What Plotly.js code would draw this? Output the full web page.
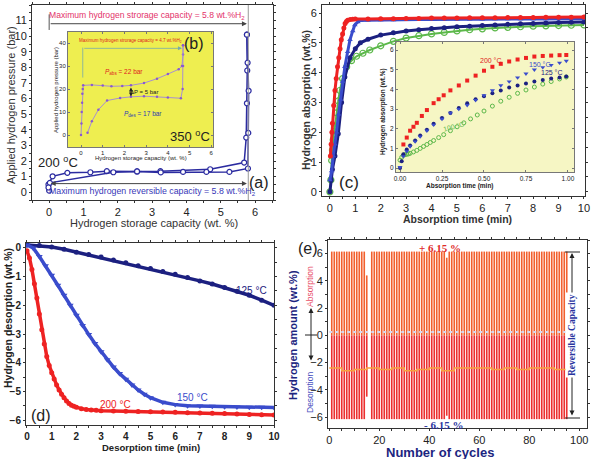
<!DOCTYPE html>
<html><head><meta charset="utf-8">
<script src="https://cdn.plot.ly/plotly-3.0.1.min.js"></script>
<style>html,body{margin:0;padding:0;background:#fff}#g{width:592px;height:459px}</style>
</head><body><div id="g"></div>
<script>
// ---------- (a) PCI at 200 C ----------
const aAbsX = [0.0, -0.02, 0.1, 0.53, 1.2, 1.68, 2.56, 3.24, 4.69, 5.68, 5.74, 5.76, 5.77, 5.76];
const aAbsY = [0.1, 0.5, 1.02, 1.24, 1.28, 1.35, 1.33, 1.35, 1.47, 1.9, 3.5, 5.7, 7.8, 10.1];
const aDesX = [5.76, 5.78, 5.81, 5.8, 5.79, 5.25, 4.58, 3.9, 3.25, 2.56, 1.87, 0.02, -0.02];
const aDesY = [10.1, 8.3, 6.5, 3.8, 1.52, 1.3, 1.3, 1.3, 1.27, 1.33, 1.28, 0.6, 0.3];
// ---------- (b) PCI at 350 C ----------
const bAbsX = [0.0, 0.02, 0.03, 0.05, 0.06, 0.08, 0.1, 0.5, 1.0, 1.4, 1.9, 2.3, 2.9, 3.5, 4.0, 4.5, 4.65, 4.7, 4.7];
const bAbsY = [0.0, 5, 10, 14, 18, 20, 21.6, 21.8, 21.5, 21.2, 21.3, 21.6, 22.6, 24.5, 26.5, 28.6, 30, 35, 39];
const bDesX = [4.7, 4.7, 4.68, 4.6, 4.0, 3.5, 2.9, 2.3, 1.8, 1.2, 0.8, 0.5, 0.3];
const bDesY = [39, 30, 20, 16.0, 16.3, 16.6, 16.9, 16.6, 16.1, 15.0, 11.0, 6.0, 1.0];
// ---------- (c) absorption kinetics ----------
const cT200 = [0.02, 0.05, 0.08, 0.1, 0.15, 0.2, 0.25, 0.3, 0.35, 0.4, 0.45, 0.5, 0.55, 0.6, 0.65, 0.7, 0.8, 0.9, 1.0, 1.5, 2, 2.5, 3, 3.5, 4, 4.5, 5, 5.5, 6, 6.5, 7, 7.5, 8, 8.5, 9, 9.5, 10];
const cY200 = [1.2, 1.6, 2.0, 2.3, 2.9, 3.4, 3.8, 4.2, 4.5, 4.8, 5.1, 5.3, 5.5, 5.65, 5.72, 5.76, 5.78, 5.79, 5.8, 5.8, 5.81, 5.81, 5.82, 5.82, 5.83, 5.83, 5.83, 5.84, 5.84, 5.84, 5.85, 5.85, 5.85, 5.86, 5.86, 5.86, 5.87];
const cT150 = [0.0, 0.07, 0.13, 0.2, 0.26, 0.34, 0.42, 0.5, 0.59, 0.7, 0.79, 0.9, 0.98, 1.1, 1.2, 1.5, 2, 2.5, 3, 3.5, 4, 4.5, 5, 5.5, 6, 6.5, 7, 7.5, 8, 8.5, 9, 9.5, 10];
const cY150 = [0.4, 0.7, 1.2, 1.6, 2.0, 2.6, 3.1, 3.7, 4.2, 4.7, 5.1, 5.4, 5.6, 5.7, 5.75, 5.76, 5.77, 5.77, 5.78, 5.78, 5.78, 5.79, 5.79, 5.79, 5.79, 5.8, 5.8, 5.8, 5.8, 5.8, 5.81, 5.81, 5.81];
const cT125 = [0.0, 0.05, 0.1, 0.2, 0.33, 0.46, 0.59, 0.79, 1.0, 1.2, 1.5, 2, 2.5, 3, 3.5, 4, 4.5, 5, 5.5, 6, 6.5, 7, 7.5, 8, 8.5, 9, 9.5, 10];
const cY125 = [0.0, 0.4, 0.75, 1.2, 1.95, 3.0, 3.85, 4.5, 4.8, 5.0, 5.12, 5.26, 5.34, 5.4, 5.44, 5.48, 5.51, 5.54, 5.56, 5.58, 5.6, 5.62, 5.64, 5.65, 5.67, 5.68, 5.69, 5.7];
const cT100 = [0.0, 0.04, 0.07, 0.1, 0.13, 0.2, 0.26, 0.33, 0.39, 0.5, 0.66, 0.85, 1.05, 1.3, 1.57, 2, 2.5, 3, 3.5, 4, 4.5, 5, 5.5, 6, 6.5, 7, 7.5, 8, 8.5, 9, 9.5, 10];
const cY100 = [0.0, 0.4, 1.05, 1.4, 1.75, 2.2, 2.65, 3.05, 3.4, 3.8, 4.2, 4.4, 4.55, 4.65, 4.76, 4.9, 5.05, 5.16, 5.24, 5.3, 5.35, 5.4, 5.44, 5.47, 5.5, 5.52, 5.54, 5.56, 5.57, 5.58, 5.59, 5.6];
// ---------- (c) inset, first minute ----------
const iT200 = [0.02, 0.04, 0.06, 0.08, 0.1, 0.13, 0.16, 0.2, 0.23, 0.26, 0.3, 0.35, 0.4, 0.45, 0.5, 0.55, 0.6, 0.65, 0.7, 0.75, 0.8, 0.85, 0.9, 0.95, 0.99];
const iY200 = [1.2, 1.55, 1.9, 2.1, 2.3, 2.65, 2.95, 3.3, 3.5, 3.7, 3.95, 4.2, 4.45, 4.7, 4.95, 5.15, 5.3, 5.42, 5.52, 5.6, 5.67, 5.7, 5.72, 5.74, 5.75];
const iT150 = [0.0, 0.02, 0.04, 0.06, 0.09, 0.12, 0.16, 0.2, 0.25, 0.3, 0.35, 0.4, 0.45, 0.5, 0.55, 0.6, 0.65, 0.7, 0.75, 0.8, 0.85, 0.9, 0.95, 0.99];
const iY150 = [0.05, 0.6, 0.85, 1.1, 1.35, 1.6, 1.9, 2.2, 2.5, 2.8, 3.0, 3.2, 3.45, 3.7, 3.95, 4.2, 4.4, 4.6, 4.8, 5.0, 5.12, 5.24, 5.35, 5.45];
const iT125 = [0.0, 0.01, 0.02, 0.04, 0.06, 0.09, 0.12, 0.16, 0.2, 0.25, 0.3, 0.35, 0.4, 0.45, 0.5, 0.55, 0.6, 0.65, 0.7, 0.75, 0.8, 0.85, 0.9, 0.95, 0.99];
const iY125 = [0.0, 0.35, 0.7, 0.95, 1.15, 1.4, 1.65, 1.95, 2.25, 2.55, 2.8, 3.05, 3.3, 3.5, 3.65, 3.8, 3.95, 4.1, 4.2, 4.3, 4.4, 4.48, 4.55, 4.6, 4.65];
const iT100 = [0.0, 0.01, 0.02, 0.03, 0.04, 0.05, 0.06, 0.08, 0.1, 0.12, 0.14, 0.16, 0.18, 0.2, 0.23, 0.26, 0.3, 0.34, 0.38, 0.42, 0.46, 0.5, 0.55, 0.6, 0.65, 0.7, 0.75, 0.8, 0.85, 0.9, 0.95, 0.99];
const iY100 = [0.4, 0.55, 0.65, 0.68, 0.7, 0.72, 0.75, 0.82, 0.9, 1.0, 1.1, 1.2, 1.3, 1.4, 1.55, 1.7, 1.9, 2.1, 2.3, 2.5, 2.7, 2.9, 3.15, 3.4, 3.6, 3.8, 3.97, 4.12, 4.27, 4.4, 4.53, 4.63];
// ---------- (d) desorption kinetics ----------
const dT125 = [0, 0.5, 1, 1.5, 2, 2.5, 3, 3.5, 4, 4.5, 5, 5.5, 6, 6.5, 7, 7.5, 8, 8.5, 9, 9.5, 10];
const dY125 = [0.1, 0.08, 0.03, -0.05, -0.15, -0.23, -0.32, -0.42, -0.52, -0.62, -0.72, -0.82, -0.92, -1.03, -1.15, -1.26, -1.38, -1.51, -1.65, -1.82, -2.0];
const dT150 = [0, 0.25, 0.5, 0.75, 1, 1.25, 1.5, 1.75, 2, 2.25, 2.5, 2.75, 3, 3.25, 3.5, 3.75, 4, 4.25, 4.5, 4.75, 5, 5.5, 6, 6.5, 7, 7.5, 8, 8.5, 9, 9.5, 10];
const dY150 = [0.1, 0.0, -0.3, -0.62, -0.95, -1.3, -1.65, -2.0, -2.35, -2.7, -3.02, -3.33, -3.62, -3.9, -4.15, -4.38, -4.58, -4.78, -4.95, -5.1, -5.22, -5.38, -5.46, -5.5, -5.51, -5.52, -5.53, -5.54, -5.55, -5.55, -5.56];
const dT200 = [0, 0.1, 0.2, 0.3, 0.4, 0.5, 0.6, 0.7, 0.8, 0.9, 1.0, 1.1, 1.2, 1.3, 1.4, 1.5, 1.6, 1.7, 1.8, 1.9, 2.0, 2.2, 2.4, 2.6, 2.8, 3, 3.5, 4, 4.5, 5, 5.5, 6, 6.5, 7, 7.5, 8, 8.5, 9, 9.5, 10];
const dY200 = [-0.1, -0.35, -0.75, -1.25, -1.75, -2.3, -2.85, -3.35, -3.78, -4.1, -4.35, -4.57, -4.78, -4.95, -5.1, -5.22, -5.33, -5.42, -5.48, -5.52, -5.55, -5.6, -5.63, -5.65, -5.66, -5.67, -5.68, -5.69, -5.7, -5.71, -5.72, -5.73, -5.74, -5.75, -5.76, -5.77, -5.79, -5.8, -5.81, -5.82];
// ---------- (e) cycling ----------
const eCycle = [1,2,3,4,5,6,7,8,9,10,11,12,13,14,15,16,17,18,19,20,21,22,23,24,25,26,27,28,29,30,31,32,33,34,35,36,37,38,39,40,41,42,43,44,45,46,47,48,49,50,51,52,53,54,55,56,57,58,59,60,61,62,63,64,65,66,67,68,69,70,71,72,73,74,75,76,77,78,79,80,81,82,83,84,85,86,87,88,89,90,91,92,93,94,95];
const eAbs = [6.15,6.15,6.15,6.15,6.15,6.15,6.15,6.15,6.15,6.15,6.15,6.15,6.15,6.15,4.4,0,6.15,6.15,6.15,6.15,6.15,6.15,6.15,6.15,6.15,6.15,6.15,6.15,6.15,6.15,6.15,6.15,6.15,6.15,6.15,6.15,6.15,6.15,6.15,6.15,6.15,6.15,6.15,6.15,6.15,6.15,5.7,6.15,6.15,6.15,6.15,6.15,6.15,6.15,6.15,6.15,6.15,6.15,6.15,6.15,6.15,6.15,6.15,6.15,6.15,6.15,6.15,6.15,6.15,6.15,6.15,6.15,6.15,6.15,6.15,6.15,6.15,6.15,6.15,6.15,6.15,6.15,6.15,6.15,6.15,6.15,6.15,6.15,6.15,6.15,6.15,6.15,6.15,6.15,6.15];
const eDes = [-6.15,-6.15,-6.15,-6.15,-6.15,-6.15,-6.15,-6.15,-6.15,-6.15,-6.15,-6.15,-6.15,-6.15,-4.5,0,-6.15,-6.15,-6.15,-6.15,-6.15,-6.15,-6.15,-6.15,-6.15,-6.15,-6.15,-6.15,-6.15,-6.15,-6.15,-6.15,-6.15,-6.15,-6.15,-6.15,-6.15,-6.15,-6.15,-6.15,-6.15,-6.15,-6.15,-6.15,-6.15,-6.15,-5.9,-6.15,-6.15,-6.15,-6.15,-6.15,-6.15,-6.15,-6.15,-6.15,-6.15,-6.15,-6.15,-6.15,-6.15,-6.15,-6.15,-6.15,-6.15,-6.15,-6.15,-6.15,-6.15,-6.15,-6.15,-6.15,-6.15,-6.15,-6.15,-6.15,-6.15,-6.15,-6.15,-6.15,-6.15,-6.15,-6.15,-6.15,-6.15,-6.15,-6.15,-6.15,-6.15,-6.15,-6.15,-6.15,-6.15,-6.15,-6.15];
const eBaseX = [0, 95];
const eBaseY = [0.25, 0.25];
const eMidX = [0, 5, 10, 15, 20, 25, 30, 35, 40, 45, 50, 55, 60, 65, 70, 75, 80, 85, 90, 95];
const eMidY = [-2.4, -2.6, -2.5, -2.4, -2.5, -2.4, -2.6, -2.5, -2.4, -2.6, -2.4, -2.4, -2.4, -2.5, -2.4, -2.5, -2.4, -2.4, -2.5, -2.6];

const W = 592, H = 459;
const PX = x => x / W, PY = y => 1 - y / H;
const RED = '#ee2222', BLUE = '#3a4ccc', NAVY = '#1c2080', GREEN = '#5cb84a';
const SANS = 'Liberation Sans, Arial, sans-serif', SERIF = 'Liberation Serif, Times New Roman, serif';

function axis(dom, range, anchor, o) {
  return Object.assign({
    domain: dom, range: range, anchor: anchor, showline: true, linecolor: '#333', linewidth: 1,
    mirror: 'ticks', ticks: 'outside', ticklen: 2, tickcolor: '#333', showgrid: false, zeroline: false,
    tickfont: {family: SANS, size: 11, color: '#222'}, fixedrange: true
  }, o || {});
}
const dA = {x: [PX(32), PX(273)], y: [PY(200), PY(5)]};
const dB = {x: [PX(68), PX(213)], y: [PY(147), PY(32)]};
const dC = {x: [PX(322), PX(585)], y: [PY(196), PY(5)]};
const dCI = {x: [PX(396), PX(574)], y: [PY(172), PY(42)]};
const dD = {x: [PX(26), PX(274)], y: [PY(425), PY(243)]};
const dE = {x: [PX(328), PX(587)], y: [PY(428), PY(240)]};

const tiny = {family: SANS, size: 6, color: '#222'};
const mn = {dtick: 0.5, ticks: 'outside', ticklen: 2};
const layout = {
  width: W, height: H, margin: {l: 0, r: 0, t: 0, b: 0}, showlegend: false,
  paper_bgcolor: '#fff', plot_bgcolor: 'rgba(0,0,0,0)',
  xaxis: axis(dA.x, [-0.5, 6.52], 'y', {dtick: 1, minor: mn}),
  yaxis: axis(dA.y, [-0.5, 12], 'x', {dtick: 1, minor: mn}),
  xaxis2: axis(dB.x, [-0.6, 6.08], 'y2', {dtick: 1, ticks: 'inside', ticklen: 2, tickfont: tiny, linecolor: '#777', tickcolor: '#777'}),
  yaxis2: axis(dB.y, [-5.2, 44.8], 'x2', {dtick: 10, ticks: 'inside', ticklen: 2, tickfont: tiny, linecolor: '#777', tickcolor: '#777'}),
  xaxis3: axis(dC.x, [-0.31, 10.04], 'y3', {dtick: 1, minor: mn}),
  yaxis3: axis(dC.y, [-0.14, 6.27], 'x3', {dtick: 1, minor: mn}),
  xaxis4: axis(dCI.x, [-0.024, 1.036], 'y4', {dtick: 0.25, tickformat: '.2f', ticks: 'inside', ticklen: 2, tickfont: {family: SANS, size: 6.5, color: '#222'}, linecolor: '#777', tickcolor: '#777'}),
  yaxis4: axis(dCI.y, [-0.2, 6.41], 'x4', {dtick: 1, ticks: 'inside', ticklen: 2, tickfont: {family: SANS, size: 6.5, color: '#222'}, linecolor: '#777', tickcolor: '#777'}),
  xaxis5: axis(dD.x, [-0.04, 10.0], 'y5', {dtick: 1, minor: mn, tickfont: {family: SANS, size: 10, color: '#222', weight: 'bold'}}),
  yaxis5: axis(dD.y, [-6.17, 0.17], 'x5', {dtick: 1, minor: mn, tickfont: {family: SANS, size: 10, color: '#222', weight: 'bold'}}),
  xaxis6: axis(dE.x, [-0.5, 103.1], 'y6', {dtick: 20, minor: {dtick: 5, ticks: 'outside', ticklen: 2}}),
  yaxis6: axis(dE.y, [-6.8, 7.0], 'x6', {dtick: 2, minor: {dtick: 1, ticks: 'outside', ticklen: 2}}),
  bargap: 0.35,
  shapes: [
    {type: 'rect', xref: 'paper', yref: 'paper', x0: dB.x[0], x1: dB.x[1], y0: dB.y[0], y1: dB.y[1], fillcolor: '#eeee50', line: {width: 0}, layer: 'below'},
    {type: 'rect', xref: 'paper', yref: 'paper', x0: dCI.x[0], x1: dCI.x[1], y0: dCI.y[0], y1: dCI.y[1], fillcolor: '#f6f6c4', line: {width: 0}, layer: 'below'},
    {type: 'line', xref: 'x', yref: 'y', x0: 5.8, x1: 5.8, y0: -0.5, y1: 12, line: {color: '#999', width: 1}},
    {type: 'line', xref: 'x', yref: 'y', x0: 0, x1: 0, y0: 10.4, y1: 11.4, line: {color: '#555', width: 1}},
    {type: 'line', xref: 'x2', yref: 'y2', x0: 0.08, x1: 0.08, y0: 25, y1: 38, line: {color: '#7aa', width: 0.8}},
    {type: 'line', xref: 'paper', yref: 'paper', x0: PX(305), x1: PX(317), y0: PY(335), y1: PY(335), line: {color: '#222', width: 1}},
    {type: 'line', xref: 'paper', yref: 'paper', x0: PX(565), x1: PX(580), y0: PY(252), y1: PY(252), line: {color: '#222', width: 1}},
    {type: 'line', xref: 'paper', yref: 'paper', x0: PX(565), x1: PX(580), y0: PY(418), y1: PY(418), line: {color: '#222', width: 1}}
  ],
  annotations: []
};
const A = layout.annotations;
function txt(x, y, text, font, o) { A.push(Object.assign({x: x, y: y, xref: 'paper', yref: 'paper', text: text, showarrow: false, font: font, xanchor: 'center', yanchor: 'middle'}, o || {})); }
function dtxt(xr, yr, x, y, text, font, o) { A.push(Object.assign({x: x, y: y, xref: xr, yref: yr, text: text, showarrow: false, font: font, xanchor: 'center', yanchor: 'middle'}, o || {})); }
function arr(xr, yr, x, y, ax, ay, color, both, w) { A.push({x: x, y: y, ax: ax, ay: ay, xref: xr, yref: yr, axref: xr, ayref: yr, text: '', showarrow: true, arrowhead: 2, arrowsize: 1, arrowwidth: w || 1, arrowcolor: color, arrowside: both ? 'end+start' : 'end'}); }

// axis titles
txt(PX(154), PY(223), 'Hydrogen storage capacity (wt. %)', {family: SANS, size: 11, color: '#333'});
txt(PX(11), PY(105), 'Applied hydrogen pressure (bar)', {family: SANS, size: 11, color: '#333'}, {textangle: -90});
txt(PX(141), PY(158), 'Hydrogen storage capacity (wt. %)', tiny);
txt(PX(56), PY(90), 'Applied hydrogen pressure (bar)', tiny, {textangle: -90});
txt(PX(457), PY(219), '<b>Absorption time (min)</b>', {family: SANS, size: 10.5, color: '#333'});
txt(PX(306), PY(100), '<b>Hydrogen absorption (wt.%)</b>', {family: SANS, size: 10.5, color: '#333'}, {textangle: -90});
txt(PX(460), PY(186), '<b>Absorption time (min)</b>', {family: SANS, size: 6.5, color: '#222'});
txt(PX(383), PY(112), '<b>Hydrogen absorption (wt.%)</b>', {family: SANS, size: 6.5, color: '#222'}, {textangle: -90});
txt(PX(151), PY(447), '<b>Desorption time (min)</b>', {family: SANS, size: 9.5, color: '#222'});
txt(PX(8), PY(318), '<b>Hydrogen desorption (wt.%)</b>', {family: SANS, size: 10.5, color: '#222'}, {textangle: -90});
txt(PX(440), PY(452), '<b>Number of cycles</b>', {family: SANS, size: 13, color: '#1c2580'});
txt(PX(293), PY(335), '<b>Hydrogen amount (wt.%)</b>', {family: SANS, size: 11, color: '#1c2580'}, {textangle: -90});

// (a) annotations
dtxt('x', 'y', 2.86, 11.35, 'Maximum hydrogen strorage capacity = 5.8 wt.%H<sub>2</sub>', {family: SANS, size: 8.6, color: '#e3336a'});
arr('x', 'y', 5.76, 10.8, 0, 10.8, '#444', false, 1);
dtxt('x', 'y', 0.25, 1.95, '200 <sup>o</sup>C', {family: SANS, size: 13, color: '#222'});
arr('x', 'y', 5.76, 0.55, 0.0, 0.55, '#444', true, 1);
dtxt('x', 'y', 3.0, 0.02, 'Maximum hydrogen reversible capacity = 5.8 wt.%H<sub>2</sub>', {family: SANS, size: 8.8, color: '#3838b8'});
dtxt('x', 'y', 6.1, 0.6, '(a)', {family: SANS, size: 16, color: '#222'});
// (b) annotations
dtxt('x2', 'y2', 2.3, 40.8, 'Maximum hydrogen strorage capacity = 4.7 wt.%H<sub>2</sub>', {family: SANS, size: 4.5, color: '#e02020'});
arr('x2', 'y2', 4.65, 37.7, 0.08, 37.7, '#7aa', false, 0.8);
dtxt('x2', 'y2', 5.2, 40, '(b)', {family: SANS, size: 16, color: '#222'});
dtxt('x2', 'y2', 2.0, 27.3, '<i>P</i><sub>abs</sub> = 22 bar', {family: SANS, size: 6.5, color: '#e02020'});
dtxt('x2', 'y2', 2.9, 18.8, 'ΔP = 5 bar', {family: SANS, size: 6, color: '#222'});
dtxt('x2', 'y2', 2.85, 9.0, '<i>P</i><sub>des</sub> = 17 bar', {family: SANS, size: 6.5, color: '#2a3ab0'});
dtxt('x2', 'y2', 5.0, -0.5, '350 <sup>o</sup>C', {family: SANS, size: 13, color: '#222'});
arr('x2', 'y2', 2.3, 16.8, 2.3, 21.3, '#222', true, 0.8);
// (c) annotations
dtxt('x3', 'y3', 0.75, 0.33, '(c)', {family: SANS, size: 17, color: '#222'});
dtxt('x4', 'y4', 0.54, 5.45, '200 °C', {family: SANS, size: 7, color: '#e02020'});
dtxt('x4', 'y4', 0.83, 5.25, '150 °C', {family: SANS, size: 7, color: '#3a4ccc'});
dtxt('x4', 'y4', 0.9, 4.87, '125 °C', {family: SANS, size: 7, color: '#1c2080'});
dtxt('x4', 'y4', 0.32, 2.1, '100 °C', {family: SANS, size: 7, color: '#5cb84a'}, {textangle: -15});
// (d) annotations
dtxt('x5', 'y5', 9.1, -1.5, '125 °C', {family: SANS, size: 10, color: '#1c2080'});
dtxt('x5', 'y5', 6.7, -5.22, '150 °C', {family: SANS, size: 10, color: '#3a4ccc'});
dtxt('x5', 'y5', 3.6, -5.47, '200 °C', {family: SANS, size: 10, color: '#ee2222'});
dtxt('x5', 'y5', 0.55, -5.85, '(d)', {family: SANS, size: 16, color: '#222'});
// (e) annotations
txt(PX(308), PY(249), '(e)', {family: SANS, size: 16, color: '#222'});
txt(PX(440), PY(248), '<b>+ 6.15 %</b>', {family: SERIF, size: 11, color: '#e02a2a'});
txt(PX(443), PY(425), '<b>- 6.15 %</b>', {family: SERIF, size: 11, color: '#2a35a0'});
txt(PX(310), PY(287), 'Absorption', {family: SANS, size: 8.5, color: '#e8506a'}, {textangle: -90});
txt(PX(310), PY(393), 'Desorption', {family: SANS, size: 8.5, color: '#4a50c0'}, {textangle: -90});
A.push({x: PX(311), y: PY(308), ax: PX(311), ay: PY(362), xref: 'paper', yref: 'paper', axref: 'paper', ayref: 'paper', text: '', showarrow: true, arrowhead: 2, arrowwidth: 1, arrowcolor: '#222', arrowside: 'end+start'});
A.push({x: PX(572), y: PY(253), ax: PX(572), ay: PY(417), xref: 'paper', yref: 'paper', axref: 'paper', ayref: 'paper', text: '', showarrow: true, arrowhead: 2, arrowwidth: 1, arrowcolor: '#222', arrowside: 'end+start'});
txt(PX(572), PY(335), '<b>Reversible Capacity</b>', {family: SERIF, size: 9.5, color: '#2a35a0'}, {textangle: -90, bgcolor: '#fff'});

const traces = [
  {x: aAbsX, y: aAbsY, xaxis: 'x', yaxis: 'y', mode: 'lines+markers', line: {color: '#2b2ba0', width: 1.5}, marker: {symbol: 'circle', size: 5, color: '#fff', line: {color: '#2b2ba0', width: 1.2}}},
  {x: aDesX, y: aDesY, xaxis: 'x', yaxis: 'y', mode: 'lines+markers', line: {color: '#2b2ba0', width: 1.5}, marker: {symbol: 'circle', size: 5, color: '#fff', line: {color: '#2b2ba0', width: 1.2}}},
  {x: bAbsX, y: bAbsY, xaxis: 'x2', yaxis: 'y2', mode: 'lines+markers', line: {color: '#a890d0', width: 1}, marker: {size: 2.5, color: '#8a5ad0'}},
  {x: bDesX, y: bDesY, xaxis: 'x2', yaxis: 'y2', mode: 'lines+markers', line: {color: '#a890d0', width: 1}, marker: {size: 2.5, color: '#8a5ad0'}},
  {x: cT100, y: cY100, xaxis: 'x3', yaxis: 'y3', mode: 'lines+markers', line: {color: GREEN, width: 2}, marker: {symbol: 'circle-open', size: 6, color: GREEN, line: {width: 1.2}}},
  {x: cT125, y: cY125, xaxis: 'x3', yaxis: 'y3', mode: 'lines+markers', line: {color: NAVY, width: 3}, marker: {symbol: 'circle', size: 5, color: NAVY}},
  {x: cT150, y: cY150, xaxis: 'x3', yaxis: 'y3', mode: 'lines+markers', line: {color: BLUE, width: 3}, marker: {symbol: 'triangle-up', size: 5, color: BLUE}},
  {x: cT200, y: cY200, xaxis: 'x3', yaxis: 'y3', mode: 'lines+markers', line: {color: RED, width: 3}, marker: {symbol: 'circle', size: 5, color: RED}},
  {x: iT100, y: iY100, xaxis: 'x4', yaxis: 'y4', mode: 'markers', marker: {symbol: 'circle-open', size: 4, color: GREEN, line: {width: 1}}},
  {x: iT125, y: iY125, xaxis: 'x4', yaxis: 'y4', mode: 'markers', marker: {symbol: 'circle', size: 4, color: NAVY}},
  {x: iT150, y: iY150, xaxis: 'x4', yaxis: 'y4', mode: 'markers', marker: {symbol: 'triangle-down', size: 4.5, color: BLUE}},
  {x: iT200, y: iY200, xaxis: 'x4', yaxis: 'y4', mode: 'markers', marker: {symbol: 'square', size: 4, color: RED}},
  {x: dT125, y: dY125, xaxis: 'x5', yaxis: 'y5', mode: 'lines+markers', line: {color: NAVY, width: 3.5}, marker: {symbol: 'circle', size: 5, color: NAVY}},
  {x: dT150, y: dY150, xaxis: 'x5', yaxis: 'y5', mode: 'lines+markers', line: {color: BLUE, width: 3.5}, marker: {symbol: 'triangle-down', size: 6, color: BLUE}},
  {x: dT200, y: dY200, xaxis: 'x5', yaxis: 'y5', mode: 'lines+markers', line: {color: RED, width: 3.5}, marker: {symbol: 'circle', size: 5, color: RED}},
  {type: 'bar', x: eCycle, y: eAbs, xaxis: 'x6', yaxis: 'y6', marker: {color: '#f2602e', line: {width: 0}}},
  {type: 'bar', x: eCycle, y: eDes, xaxis: 'x6', yaxis: 'y6', marker: {color: '#ec3030', line: {width: 0}}},
  {x: eBaseX, y: eBaseY, xaxis: 'x6', yaxis: 'y6', mode: 'lines', line: {color: '#d8d8f0', width: 2, dash: 'dot'}},
  {x: eMidX, y: eMidY, xaxis: 'x6', yaxis: 'y6', mode: 'lines', line: {color: '#f7a040', width: 1.5, shape: 'hv'}}
];
layout.barmode = 'relative';
Plotly.newPlot('g', traces, layout, {staticPlot: true, displayModeBar: false});
</script></body></html>
